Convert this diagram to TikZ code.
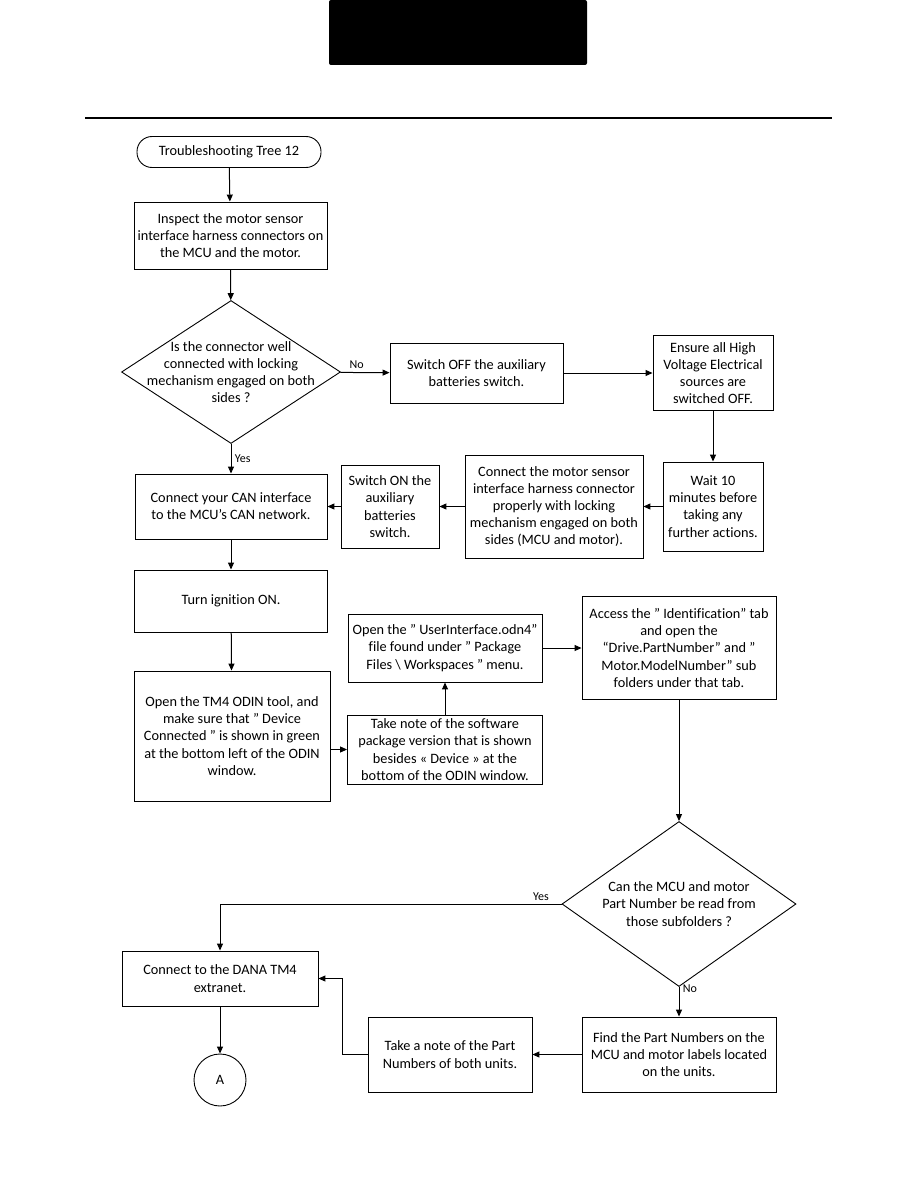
\documentclass[tikz,border=0pt]{standalone}
\usepackage{fontspec}
\setmainfont{Carlito}[Ligatures=NoCommon]
\usetikzlibrary{shapes.geometric,arrows.meta}

\begin{document}
\begin{tikzpicture}[x=1pt,y=-1pt,
    procbox/.style={draw, line width=0.9pt, align=center, inner sep=2pt, font=\fontsize{14.3}{17.2}\selectfont},
    decision/.style={draw, diamond, line width=0.9pt, inner sep=0pt},
    qtext/.style={align=center, font=\fontsize{14.3}{17.2}\selectfont},
    lbl/.style={font=\fontsize{12}{14}\selectfont},
    arr/.style={-{Triangle[length=7pt,width=6pt]}, line width=1pt}
]
    \useasboundingbox (0,0) rectangle (918,1188);
    % page header
    \fill[rounded corners=2pt] (329,0) rectangle (587,65);
    \draw[line width=2pt] (85,118) -- (832,118);

    % left column
    \node[procbox, rounded corners=15pt, minimum width=184pt, minimum height=31pt] (start) at (229,152) {Troubleshooting Tree 12};
    \node[procbox, minimum width=193pt, minimum height=67pt] (inspect) at (230.5,235.5) {Inspect the motor sensor\\interface harness connectors on\\the MCU and the motor.};
    \node[decision, minimum width=219pt, minimum height=143pt] (dia1) at (231,372) {};
    \node[qtext] (dia1txt) at (231,372) {Is the connector well\\connected with locking\\mechanism engaged on both\\sides ?};

    % top row
    \node[procbox, minimum width=173pt, minimum height=60pt] (switchoff) at (476.5,373) {Switch OFF the auxiliary\\batteries switch.};
    \node[procbox, minimum width=120pt, minimum height=75pt] (ensure) at (713,373) {Ensure all High\\Voltage Electrical\\sources are\\switched OFF.};

    % return row
    \node[procbox, minimum width=100pt, minimum height=89pt] (wait) at (713,506.5) {Wait 10\\minutes before\\taking any\\further actions.};
    \node[procbox, minimum width=178pt, minimum height=103pt] (reconnect) at (554,506.5) {Connect the motor sensor\\interface harness connector\\properly with locking\\mechanism engaged on both\\sides (MCU and motor).};
    \node[procbox, minimum width=98pt, minimum height=83pt] (switchon) at (390,506.5) {Switch ON the\\auxiliary\\batteries\\switch.};
    \node[procbox, minimum width=192pt, minimum height=65pt] (canif) at (231,506.5) {Connect your CAN interface\\to the MCU’s CAN network.};

    \node[procbox, minimum width=193pt, minimum height=62pt] (ignition) at (231,601) {Turn ignition ON.};
    \node[procbox, minimum width=196pt, minimum height=130pt] (odin) at (232,736) {Open the TM4 ODIN tool, and\\make sure that ” Device\\Connected ” is shown in green\\at the bottom left of the ODIN\\window.};
    \node[procbox, minimum width=195pt, minimum height=69pt] (note) at (445,749.5) {Take note of the software\\package version that is shown\\besides « Device » at the\\bottom of the ODIN window.};
    \node[procbox, minimum width=194pt, minimum height=68pt] (openui) at (445,648) {Open the ” UserInterface.odn4”\\file found under ” Package\\Files \textbackslash{} Workspaces ” menu.};
    \node[procbox, minimum width=194pt, minimum height=103pt] (access) at (679,648) {Access the ” Identification” tab\\and open the\\“Drive.PartNumber” and ”\\Motor.ModelNumber” sub\\folders under that tab.};

    \node[decision, minimum width=234pt, minimum height=165pt] (dia2) at (679,904) {};
    \node[qtext] (dia2txt) at (679,904) {Can the MCU and motor\\Part Number be read from\\those subfolders ?};

    % bottom row
    \node[procbox, minimum width=196pt, minimum height=55pt] (extranet) at (220,978.5) {Connect to the DANA TM4\\extranet.};
    \node[procbox, minimum width=194pt, minimum height=75pt] (findpn) at (679,1054.5) {Find the Part Numbers on the\\MCU and motor labels located\\on the units.};
    \node[procbox, minimum width=164pt, minimum height=75pt] (takepn) at (450,1054.5) {Take a note of the Part\\Numbers of both units.};
    \node[procbox, circle, minimum size=52pt] (conA) at (220,1080) {A};

    % connectors
    \draw[arr] (start) -- (inspect);
    \draw[arr] (inspect) -- (dia1);
    \draw[arr] (dia1) -- node[lbl, above, pos=0.33] {No} (switchoff);
    \draw[arr] (switchoff) -- (ensure);
    \draw[arr] (ensure) -- (wait);
    \draw[arr] (wait) -- (reconnect);
    \draw[arr] (reconnect) -- (switchon);
    \draw[arr] (switchon) -- (canif);
    \draw[arr] (dia1) -- node[lbl, right, pos=0.5] {Yes} (canif);
    \draw[arr] (canif) -- (ignition);
    \draw[arr] (ignition) -- (odin);
    \draw[arr] (odin.east |- note) -- (note);
    \draw[arr] (note) -- (openui);
    \draw[arr] (openui) -- (access);
    \draw[arr] (access) -- (dia2);
    \draw[arr] (dia2.west) -| node[lbl, above, pos=0.03] {Yes} (extranet);
    \draw[arr] (dia2) -- node[lbl, right, pos=0.05] {No} (findpn);
    \draw[arr] (findpn) -- (takepn);
    \draw[arr] (takepn.west) -- ++(-25,0) |- (extranet.east);
    \draw[arr] (extranet) -- (conA);
\end{tikzpicture}
\end{document}
